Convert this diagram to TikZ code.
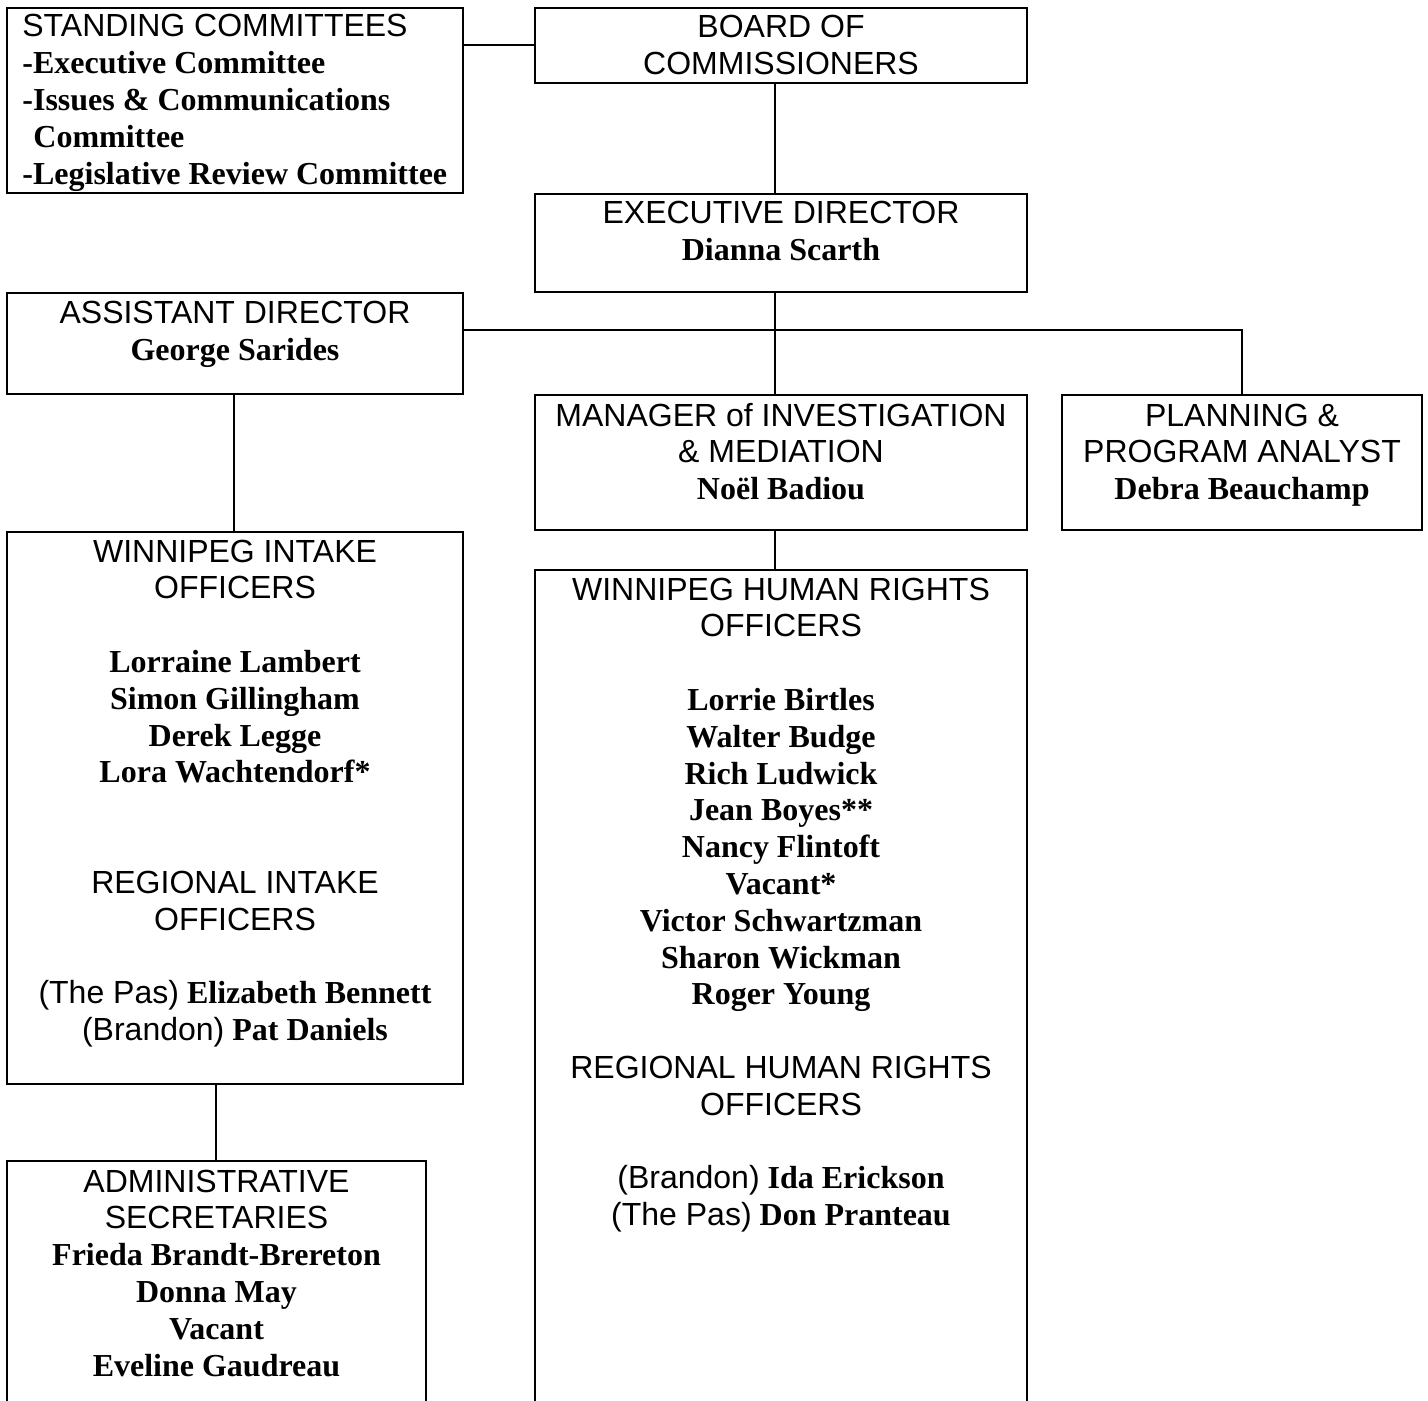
\documentclass[tikz,border=0pt]{standalone}
\usepackage{fontspec}
\setmainfont{Liberation Serif}
\newfontfamily\sansf{Liberation Sans}
\usetikzlibrary{fit}
\newcommand{\hd}[1]{{\sansf #1}}
\newcommand{\nm}[1]{{\bfseries #1}}
\begin{document}
\begin{tikzpicture}[x=0.5pt,y=-0.5pt,
  boxst/.style={draw, line width=1pt, inner sep=0pt},
  txt/.style={inner sep=0pt, anchor=base, font=\fontsize{16}{18.4}\selectfont},
  conn/.style={draw, line width=1pt}]
\useasboundingbox (0,0) rectangle (1428,1401);
\clip (0,0) rectangle (1428,1401);

% boxes
\node[boxst, fit={(7,8) (463,193)}] (stand) {};
\node[boxst, fit={(535,8) (1027,83)}] (board) {};
\node[boxst, fit={(535,194) (1027,292)}] (exec) {};
\node[boxst, fit={(7,293) (463,394)}] (asst) {};
\node[boxst, fit={(535,395) (1027,530)}] (mgr) {};
\node[boxst, fit={(1062,395) (1422,530)}] (plan) {};
\node[boxst, fit={(7,532) (463,1084)}] (intake) {};
\node[boxst, fit={(535,570) (1027,1440)}] (whr) {};
\node[boxst, fit={(7,1161) (426,1440)}] (admin) {};

% texts
\node[txt, anchor=base west] (stand-t) at (22,37) {\begin{tabular}[t]{@{}l@{}}
\hd{STANDING COMMITTEES}\\
\nm{-Executive Committee}\\
\nm{-Issues \& Communications}\\
\hspace*{5.5pt}\nm{Committee}\\
\nm{-Legislative Review Committee}
\end{tabular}};

\node[txt] (board-t) at (781,38) {\begin{tabular}[t]{@{}c@{}}
\hd{BOARD OF}\\ \hd{COMMISSIONERS}\end{tabular}};

\node[txt] (exec-t) at (781,224) {\begin{tabular}[t]{@{}c@{}}
\hd{EXECUTIVE DIRECTOR}\\ \nm{Dianna Scarth}\end{tabular}};

\node[txt] (asst-t) at (235,324) {\begin{tabular}[t]{@{}c@{}}
\hd{ASSISTANT DIRECTOR}\\ \nm{George Sarides}\end{tabular}};

\node[txt] (mgr-t) at (781,426) {\begin{tabular}[t]{@{}c@{}}
\hd{MANAGER of INVESTIGATION}\\ \hd{\& MEDIATION}\\ \nm{Noël Badiou}\end{tabular}};

\node[txt] (plan-t) at (1242,426) {\begin{tabular}[t]{@{}c@{}}
\hd{PLANNING \&}\\ \hd{PROGRAM ANALYST}\\ \nm{Debra Beauchamp}\end{tabular}};

\node[txt] (intake-t) at (235,562) {\begin{tabular}[t]{@{}c@{}}
\hd{WINNIPEG INTAKE}\\ \hd{OFFICERS}\\ \\
\nm{Lorraine Lambert}\\ \nm{Simon Gillingham}\\ \nm{Derek Legge}\\ \nm{Lora Wachtendorf*}\\ \\ \\
\hd{REGIONAL INTAKE}\\ \hd{OFFICERS}\\ \\
\hd{(The Pas)} \nm{Elizabeth Bennett}\\
\hd{(Brandon)} \nm{Pat Daniels}
\end{tabular}};

\node[txt] (whr-t) at (781,600) {\begin{tabular}[t]{@{}c@{}}
\hd{WINNIPEG HUMAN RIGHTS}\\ \hd{OFFICERS}\\ \\
\nm{Lorrie Birtles}\\ \nm{Walter Budge}\\ \nm{Rich Ludwick}\\ \nm{Jean Boyes**}\\
\nm{Nancy Flintoft}\\ \nm{Vacant*}\\ \nm{Victor Schwartzman}\\ \nm{Sharon Wickman}\\ \nm{Roger Young}\\ \\
\hd{REGIONAL HUMAN RIGHTS}\\ \hd{OFFICERS}\\ \\
\hd{(Brandon)} \nm{Ida Erickson}\\
\hd{(The Pas)} \nm{Don Pranteau}
\end{tabular}};

\node[txt] (admin-t) at (216.5,1192) {\begin{tabular}[t]{@{}c@{}}
\hd{ADMINISTRATIVE}\\ \hd{SECRETARIES}\\
\nm{Frieda Brandt-Brereton}\\ \nm{Donna May}\\ \nm{Vacant}\\ \nm{Eveline Gaudreau}
\end{tabular}};

% connectors
\coordinate (vx) at (775,0);
\coordinate (hy) at (0,330);
\coordinate (ax) at (234,0);
\coordinate (ix) at (216,0);
\draw[conn] (board.west) -- (board.west -| stand.east);
\draw[conn] (board.south -| vx) -- (exec.north -| vx);
\draw[conn] (exec.south -| vx) -- (mgr.north -| vx);
\draw[conn] (hy -| asst.east) -- (hy -| plan.north) -- (plan.north);
\draw[conn] (asst.south -| ax) -- (intake.north -| ax);
\draw[conn] (mgr.south -| vx) -- (whr.north -| vx);
\draw[conn] (intake.south -| ix) -- (admin.north -| ix);
\end{tikzpicture}
\end{document}
